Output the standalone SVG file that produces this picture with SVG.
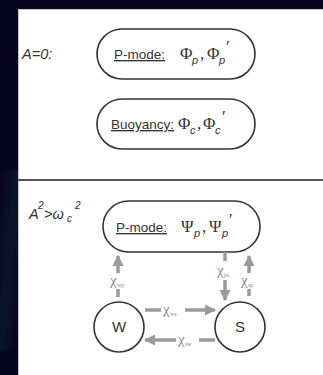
<svg xmlns="http://www.w3.org/2000/svg" width="323" height="375" viewBox="0 0 323 375">
<defs>
<linearGradient id="bgL" x1="0" y1="0" x2="1" y2="1">
<stop offset="0" stop-color="#06051c"/>
<stop offset="0.5" stop-color="#0a1a2a"/>
<stop offset="1" stop-color="#05051a"/>
</linearGradient>
<marker id="ah" viewBox="0 0 10 10" refX="9" refY="5" markerWidth="3.2" markerHeight="4" orient="auto" markerUnits="strokeWidth">
<path d="M0,0 L10,5 L0,10 Z" fill="#9a9a9a"/>
</marker>
</defs>
<style>
.pill{fill:#fff;stroke:#333;stroke-width:1.6}
.circ{fill:#fff;stroke:#333;stroke-width:1.6}
.lbl{font-family:"Liberation Sans",Arial,sans-serif;font-size:13.5px;fill:#333;text-decoration:underline}
.sym{font-family:"Liberation Serif","Times New Roman",serif;font-size:17px;fill:#333}
.sub{font-family:"Liberation Sans",Arial,sans-serif;font-size:11px;font-style:italic;fill:#333}
.cond{font-family:"Liberation Sans",Arial,sans-serif;font-size:14.5px;font-style:italic;fill:#333}
.node{font-family:"Liberation Sans",Arial,sans-serif;font-size:15px;fill:#333;text-anchor:middle}
.arr{stroke:#9a9a9a;stroke-width:3.5;fill:none}
.chi{font-family:"Liberation Serif","Times New Roman",serif;font-size:15px;fill:#8a8a8a}
.chs{font-family:"Liberation Serif","Times New Roman",serif;font-size:6px;fill:#8a8a8a}
</style>
<rect x="0" y="0" width="323" height="375" fill="#06051c"/>
<rect x="0" y="170" width="18" height="180" fill="url(#bgL)" opacity="0.8"/>
<rect x="18" y="9" width="305" height="366" fill="#fff"/>
<path d="M18.5,375 V9.5 H323" fill="none" stroke="#c4c4c4" stroke-width="1"/>
<line x1="18" y1="180" x2="323" y2="180" stroke="#555" stroke-width="2"/>

<g id="cond-top">
<text class="cond" x="22" y="59">A=0:</text>
</g>
<g id="pmode-top">
<rect class="pill" x="97" y="29" width="158" height="50" rx="25"/>
<text class="lbl" x="114" y="59">P-mode:</text>
<text class="sym" x="180" y="59">Φ</text><text class="sub" x="192" y="64">p</text>
<text class="sym" x="200" y="59">,</text>
<text class="sym" x="207" y="59">Φ</text><text class="sub" x="219" y="64">p</text>
<text class="sym" x="226" y="52">′</text>
</g>
<g id="buoyancy">
<rect class="pill" x="97" y="99" width="158" height="50" rx="25"/>
<text class="lbl" x="111" y="129">Buoyancy:</text>
<text class="sym" x="178" y="129">Φ</text><text class="sub" x="190" y="134">c</text>
<text class="sym" x="197" y="129">,</text>
<text class="sym" x="203" y="129">Φ</text><text class="sub" x="215" y="134">c</text>
<text class="sym" x="222" y="122">′</text>
</g>

<g id="cond-bottom">
<text class="cond" x="29" y="219">A</text>
<text class="cond" x="38" y="209" style="font-size:10px">2</text>
<text class="cond" x="44" y="219">&gt;ω</text>
<text class="cond" x="67" y="222" style="font-size:10px">c</text>
<text class="cond" x="75" y="209" style="font-size:10px">2</text>
</g>
<g id="pmode-bottom">
<rect class="pill" x="103" y="201" width="157" height="51" rx="25.5"/>
<text class="lbl" x="116" y="232">P-mode:</text>
<text class="sym" x="181" y="232">Ψ</text><text class="sub" x="194" y="237">p</text>
<text class="sym" x="202" y="232">,</text>
<text class="sym" x="209" y="232">Ψ</text><text class="sub" x="222" y="237">p</text>
<text class="sym" x="229" y="225">′</text>
</g>
<g id="W">
<circle class="circ" cx="119" cy="327" r="25"/>
<text class="node" x="119" y="332">W</text>
</g>
<g id="S">
<circle class="circ" cx="240" cy="327" r="25"/>
<text class="node" x="240" y="332">S</text>
</g>

<g id="connectors">
<line class="arr" x1="118" y1="297" x2="118" y2="289"/>
<line class="arr" x1="118" y1="273" x2="118" y2="256" marker-end="url(#ah)"/>
<text class="chi" x="110" y="285">χ</text><text class="chs" x="117" y="287">wp</text>

<line class="arr" x1="225" y1="252" x2="225" y2="261"/>
<line class="arr" x1="225" y1="280" x2="225" y2="300" marker-end="url(#ah)"/>
<text class="chi" x="217" y="275">χ</text><text class="chs" x="224" y="277">ps</text>

<line class="arr" x1="249" y1="296" x2="249" y2="289"/>
<line class="arr" x1="249" y1="273" x2="249" y2="256" marker-end="url(#ah)"/>
<text class="chi" x="241" y="285">χ</text><text class="chs" x="248" y="287">sp</text>

<line class="arr" x1="145" y1="310" x2="161" y2="310"/>
<line class="arr" x1="185" y1="310" x2="215" y2="310" marker-end="url(#ah)"/>
<text class="chi" x="163" y="314">χ</text><text class="chs" x="170" y="316">ws</text>

<line class="arr" x1="215" y1="340" x2="199" y2="340"/>
<line class="arr" x1="176" y1="340" x2="145" y2="340" marker-end="url(#ah)"/>
<text class="chi" x="178" y="344">χ</text><text class="chs" x="185" y="346">sw</text>
</g>
</svg>
